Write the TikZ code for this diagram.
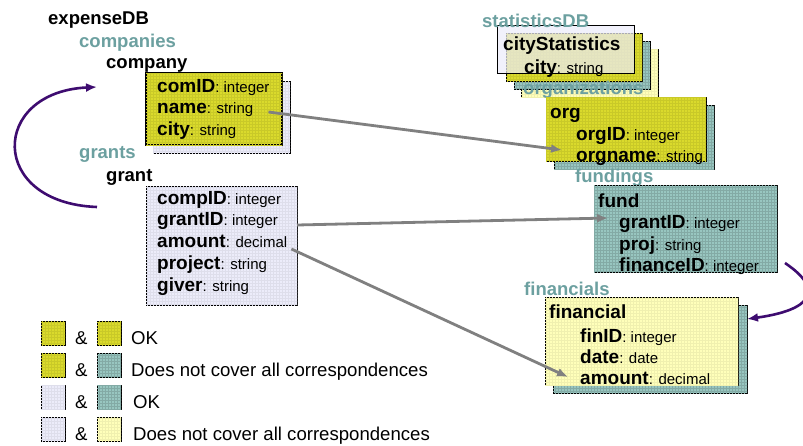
\documentclass[tikz,border=0pt]{standalone}
\usepackage{fontspec}
\setmainfont{Liberation Sans}
\usetikzlibrary{arrows.meta,patterns}
\definecolor{ygreen}{RGB}{218,218,44}
\definecolor{lav}{RGB}{236,236,250}
\definecolor{tealbox}{RGB}{152,198,192}
\definecolor{lyellow}{RGB}{255,255,186}
\colorlet{ygreengrid}{ygreen!92!black}
\colorlet{lavgrid}{lav!94!black}
\colorlet{tealboxgrid}{tealbox!86!black}
\colorlet{lyellowgrid}{lyellow!94!black}
\definecolor{tealtxt}{RGB}{108,160,160}
\definecolor{purp}{RGB}{62,12,112}
\definecolor{arrgray}{RGB}{128,128,128}
\newcommand{\fieldtxt}[2]{\textbf{#1}{\fontsize{15}{18}\selectfont: #2}}
\begin{document}
\begin{tikzpicture}[x=1pt,y=-1pt,
  tbl/.style={draw=black, line width=0.9pt, fill=#1, postaction={pattern=grid, pattern color=#1grid}},
  rect/.style={inner sep=0pt, outer sep=0pt, anchor=north west},
  hdr/.style={anchor=base west, inner sep=0pt, font=\fontsize{18.5}{20}\selectfont\bfseries},
  thdr/.style={hdr, text=tealtxt},
  fld/.style={anchor=base west, inner sep=0pt, font=\fontsize{19}{22}\selectfont},
  fldb/.style={anchor=base west, inner sep=0pt, font=\fontsize{19}{22}\selectfont\bfseries},
  legtxt/.style={anchor=base west, inner sep=0pt, font=\fontsize{18.6}{22}\selectfont},
  garrow/.style={draw=arrgray, line width=2.8pt, -{Latex[length=11pt,width=9pt]}},
  parrow/.style={draw=purp, line width=2.6pt, -{Latex[length=11pt,width=9pt]}},
  sq/.style={tbl=#1, line width=0.8pt, minimum size=24pt, inner sep=0pt, outer sep=0pt, anchor=north west},
]
\useasboundingbox[fill=white] (0,0) rectangle (803,445);

% ---------- expenseDB ----------
\node[hdr] (expdb) at (48,24) {expenseDB};
\node[thdr] (companies) at (79,47) {companies};
\node[hdr] (company) at (106,68) {company};
\node[rect, tbl=lav, minimum width=137pt, minimum height=72pt] (cback) at (153,81) {};
\node[rect, tbl=ygreen, line width=1.2pt, minimum width=136pt, minimum height=72pt] (cfront) at (146,73) {};
\node[fld] (comid) at (157,92) {\fieldtxt{comID}{integer}};
\node[fld] (cname) at (157,113) {\fieldtxt{name}{string}};
\node[fld] (ccity) at (157,135) {\fieldtxt{city}{string}};

\node[thdr] (grants) at (79,158) {grants};
\node[hdr] (grant) at (106,181) {grant};
\node[rect, tbl=lav, minimum width=151pt, minimum height=119pt] (gbox) at (146,186) {};
\node[fld] (gcompid) at (157,204) {\fieldtxt{compID}{integer}};
\node[fld] (ggrantid) at (157,225) {\fieldtxt{grantID}{integer}};
\node[fld] (gamount) at (157,247) {\fieldtxt{amount}{decimal}};
\node[fld] (gproject) at (157,269) {\fieldtxt{project}{string}};
\node[fld] (ggiver) at (157,291) {\fieldtxt{giver}{string}};

% ---------- statisticsDB ----------
\node[rect, tbl=lyellow, minimum width=137pt, minimum height=48pt] (s4) at (521,49) {};
\node[rect, tbl=tealbox, minimum width=136pt, minimum height=48pt] (s3) at (514,41) {};
\node[rect, tbl=ygreen, minimum width=136pt, minimum height=48pt] (s2) at (506,33) {};
\node[rect, draw=black, line width=0.9pt, fill=lav, fill opacity=0.72, minimum width=137pt, minimum height=48pt] (s1) at (497,25) {};
\node[thdr] (statdb) at (482,27) {statisticsDB};
\node[fldb] (citystat) at (503,50) {cityStatistics};
\node[fld] (scity) at (524,73) {\fieldtxt{city}{string}};
\node[thdr] (orgs) at (523,94) {organizations};

\node[rect, tbl=tealbox, minimum width=160pt, minimum height=64pt] (oback) at (554,105) {};
\node[rect, tbl=ygreen, minimum width=160pt, minimum height=64pt] (ofront) at (546,97) {};
\node[fldb] (org) at (550,118) {org};
\node[fld] (orgid) at (576,140) {\fieldtxt{orgID}{integer}};
\node[fld] (orgname) at (576,161) {\fieldtxt{orgname}{string}};

\node[thdr] (fundings) at (575,182) {fundings};
\node[rect, tbl=tealbox, minimum width=183pt, minimum height=87pt] (fbox) at (594,185) {};
\node[fldb] (fund) at (598,207) {fund};
\node[fld] (fgrantid) at (619,228) {\fieldtxt{grantID}{integer}};
\node[fld] (fproj) at (619,250) {\fieldtxt{proj}{string}};
\node[fld] (ffinid) at (619,271) {\fieldtxt{financeID}{integer}};

\node[thdr] (financials) at (524,295) {financials};
\node[rect, tbl=tealbox, minimum width=194pt, minimum height=88pt] (fiback) at (553,305) {};
\node[rect, tbl=lyellow, minimum width=193pt, minimum height=88pt] (fifront) at (545,297) {};
\node[fldb] (financial) at (549,318) {financial};
\node[fld] (finid) at (580,342) {\fieldtxt{finID}{integer}};
\node[fld] (fdate) at (580,363) {\fieldtxt{date}{date}};
\node[fld] (famount) at (580,384) {\fieldtxt{amount}{decimal}};

% ---------- connectors ----------
\draw[garrow] ([shift={(15,-1)}]cname.base east) -- ([shift={(-14,-11)}]orgname.base west);
\draw[garrow] (ggrantid.base -| gbox.east) -- ([shift={(-11,-10)}]fgrantid.base west);
\draw[garrow] ([shift={(4,2)}]gamount.base east) -- ([shift={(-12,-7)}]famount.base west);

\coordinate (lstart) at (97,207);
\coordinate (lend) at (97,87);
\draw[parrow] (lstart) .. controls (-12,203) and (-10,92) .. (lend);
\coordinate (rstart) at (785,263);
\coordinate (rend) at (747,319);
\draw[parrow] (rstart) .. controls (825,290) and (812,310) .. (rend);

% ---------- legend ----------
\node[sq=ygreen] (l1a) at (41,321) {};
\node[sq=ygreen] (l1b) at (97,321) {};
\node[sq=ygreen] (l2a) at (41,353) {};
\node[sq=tealbox] (l2b) at (97,353) {};
\node[sq=lav] (l3a) at (41,385) {};
\node[sq=tealbox] (l3b) at (97,385) {};
\node[sq=lav] (l4a) at (41,417) {};
\node[sq=lyellow] (l4b) at (97,417) {};
\node[legtxt] (amp1) at (75,344) {\&};
\node[legtxt] (amp2) at (75,376) {\&};
\node[legtxt] (amp3) at (75,408) {\&};
\node[legtxt] (amp4) at (75,440) {\&};
\node[legtxt] (t1) at (131,344) {OK};
\node[legtxt] (t2) at (131,376) {Does not cover all correspondences};
\node[legtxt] (t3) at (133,408) {OK};
\node[legtxt] (t4) at (133,440) {Does not cover all correspondences};
\end{tikzpicture}
\end{document}
